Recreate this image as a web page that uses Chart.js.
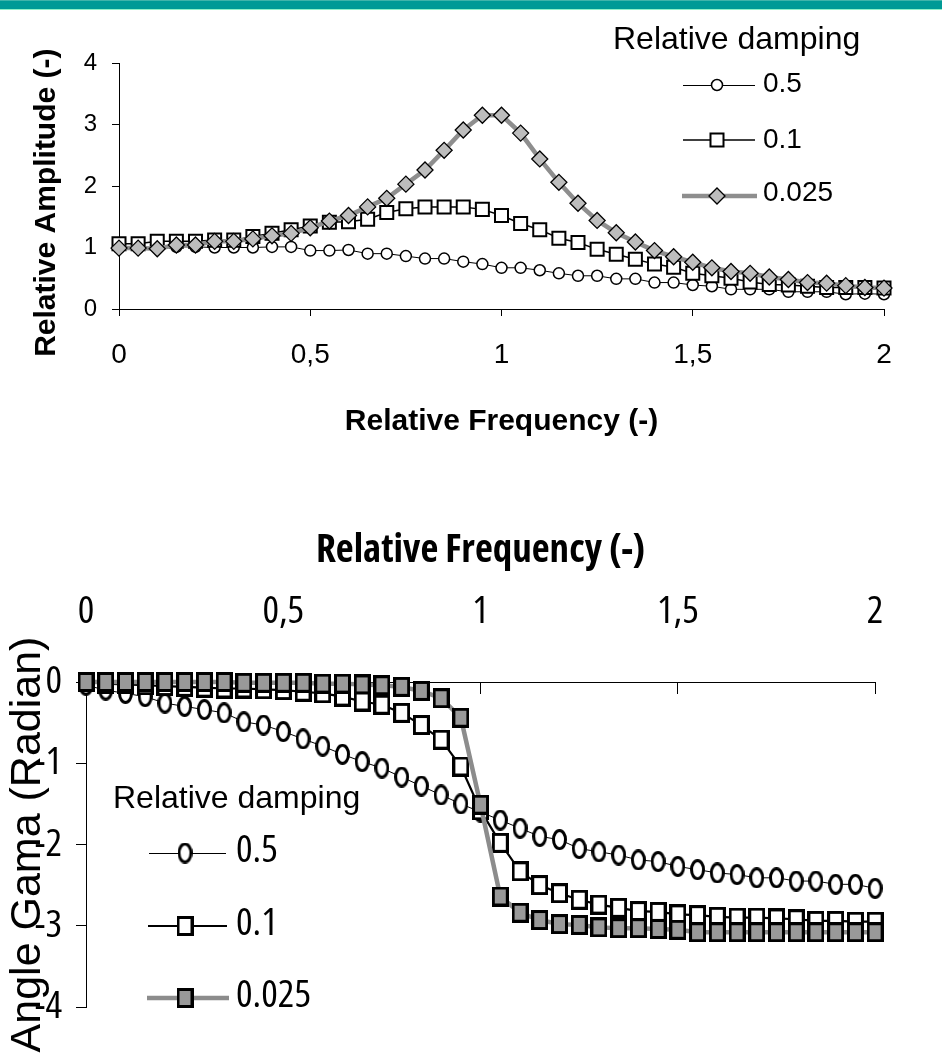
<!DOCTYPE html>
<html><head><meta charset="utf-8">
<script src="https://cdn.jsdelivr.net/npm/chart.js@4.4.1/dist/chart.umd.min.js"></script>
<style>
html,body{margin:0;padding:0;background:#fff;}
body{width:942px;height:1061px;position:relative;overflow:hidden;}
#bar{position:absolute;left:0;top:0;width:942px;height:8px;background:#009a96;border-top:1px solid #40b4aa;border-bottom:1px solid #8ff0c8;z-index:2;}
canvas{position:absolute;left:0;display:block;}
</style></head><body>
<canvas id="c1" width="942" height="450" style="top:0"></canvas>
<canvas id="c2" width="942" height="611" style="top:450px"></canvas>
<div id="bar"></div>
<script>
// ---------------- data ----------------
const freq = [0,0.05,0.1,0.15,0.2,0.25,0.3,0.35,0.4,0.45,0.5,0.55,0.6,0.65,0.7,0.75,0.8,0.85,0.9,0.95,1,1.05,1.1,1.15,1.2,1.25,1.3,1.35,1.4,1.45,1.5,1.55,1.6,1.65,1.7,1.75,1.8,1.85,1.9,1.95,2];
const dampingLabels = ['0.5','0.1','0.025'];

const amp05 = [0.99,0.99,1.0,1.01,1.01,1.0,1.0,1.0,1.01,1.01,0.95,0.95,0.96,0.9,0.9,0.86,0.82,0.82,0.77,0.73,0.67,0.67,0.63,0.58,0.54,0.54,0.49,0.49,0.43,0.43,0.39,0.37,0.32,0.32,0.32,0.28,0.28,0.28,0.24,0.25,0.24];
const amp01 = [1.06,1.06,1.1,1.1,1.1,1.12,1.12,1.18,1.23,1.29,1.35,1.41,1.42,1.46,1.57,1.63,1.66,1.66,1.66,1.62,1.52,1.39,1.29,1.15,1.08,0.97,0.89,0.81,0.73,0.68,0.58,0.54,0.5,0.44,0.4,0.39,0.37,0.35,0.35,0.35,0.34];
const amp0025 = [0.99,0.99,0.98,1.04,1.04,1.1,1.1,1.14,1.19,1.23,1.32,1.43,1.52,1.66,1.8,2.03,2.26,2.58,2.91,3.15,3.15,2.86,2.44,2.06,1.72,1.44,1.24,1.09,0.95,0.85,0.76,0.67,0.61,0.58,0.52,0.48,0.43,0.42,0.38,0.35,0.34];

const phase05 = [-0.04,-0.1,-0.14,-0.18,-0.26,-0.3,-0.34,-0.38,-0.49,-0.53,-0.61,-0.7,-0.79,-0.89,-0.98,-1.06,-1.17,-1.28,-1.39,-1.5,-1.6,-1.7,-1.8,-1.9,-1.94,-2.05,-2.09,-2.13,-2.19,-2.21,-2.27,-2.31,-2.35,-2.37,-2.41,-2.41,-2.45,-2.45,-2.49,-2.49,-2.54];
const phase01 = [0,-0.02,-0.03,-0.04,-0.05,-0.06,-0.07,-0.08,-0.08,-0.09,-0.1,-0.12,-0.14,-0.18,-0.24,-0.28,-0.38,-0.53,-0.71,-1.04,-1.58,-1.98,-2.33,-2.5,-2.6,-2.68,-2.74,-2.78,-2.82,-2.83,-2.86,-2.87,-2.89,-2.9,-2.9,-2.91,-2.92,-2.94,-2.94,-2.95,-2.95];
const phase0025 = [0,0,0,0,0,0,0,0,-0.01,-0.01,-0.01,-0.01,-0.02,-0.02,-0.03,-0.04,-0.06,-0.11,-0.2,-0.44,-1.51,-2.64,-2.84,-2.93,-2.98,-2.99,-3.02,-3.03,-3.03,-3.04,-3.05,-3.08,-3.08,-3.08,-3.08,-3.08,-3.08,-3.08,-3.08,-3.08,-3.08];

const xTickLabels = ['0','0,5','1','1,5','2'];
const ampTickLabels = ['0','1','2','3','4'];
const phaseTickValues = [0,-1,-2,-3,-4];
const phaseTickLabels = ['0','-1','-2','-3','-4'];

// ---------------- fonts ----------------
const ARIAL = "'Liberation Sans', Arial, sans-serif";
const probe = document.createElement('canvas').getContext('2d');
function textW(font, s) { probe.font = font; return probe.measureText(s).width; }
let NFAM = "'Liberation Sans'", NW = '';
for (const fam of ["'Liberation Sans Narrow'", "'Noto Sans'", "'Open Sans'", "'Roboto'"]) {
  const w0 = textW('100px ' + fam, 'Relative 0,5');
  const w1 = textW('condensed 100px ' + fam, 'Relative 0,5');
  const wl = textW("100px 'Liberation Sans'", 'Relative 0,5');
  if (fam === "'Liberation Sans Narrow'") {
    if (w0 < wl * 0.9) { NFAM = fam; NW = ''; break; }
    continue;
  }
  if (w1 < w0 * 0.86) { NFAM = fam; NW = 'condensed'; break; }
}
const NARROW = NFAM + ", 'Liberation Sans', sans-serif";
function fit(weight, text, target, maxSize) {
  const w = textW((weight ? weight + ' ' : '') + '100px ' + NARROW, text);
  return Math.min(maxSize, 100 * target / w);
}
const nTick = fit(NW, '0,5', 43, 39);
const nTitle = fit(('bold ' + NW).trim(), 'Relative Frequency (-)', 337, 39);
const nLeg = fit(NW, '0.025', 77, 39);
const nTickW = NW || undefined;
const nTitleW = ('bold ' + NW).trim();

// ---------------- helpers ----------------
const pts = (arr) => freq.map((x, i) => ({x: x, y: arr[i]}));

function makeMarker(w, h, shape, fill, stroke, lw) {
  const c = document.createElement('canvas');
  c.width = w; c.height = h;
  const g = c.getContext('2d');
  g.fillStyle = fill; g.strokeStyle = stroke; g.lineWidth = lw;
  g.beginPath();
  if (shape === 'ellipse') g.ellipse(w / 2, h / 2, w / 2 - lw / 2, h / 2 - lw / 2, 0, 0, Math.PI * 2);
  else g.rect(lw / 2, lw / 2, w - lw, h - lw);
  g.fill(); g.stroke();
  return c;
}

const sideLegend = {
  id: 'sideLegend',
  afterDraw(chart, args, o) {
    const ctx = chart.ctx;
    ctx.save();
    ctx.textBaseline = 'middle';
    ctx.textAlign = 'left';
    ctx.fillStyle = '#000';
    ctx.font = o.titleFont;
    ctx.fillText(o.title, o.titleX, o.titleY);
    o.rows.forEach((r) => {
      const ds = chart.data.datasets[r.index];
      const ly = ds.borderWidth <= 1 ? r.y + 0.5 : r.y;
      ctx.beginPath();
      ctx.strokeStyle = ds.borderColor;
      ctx.lineWidth = ds.borderWidth;
      ctx.moveTo(r.x1, ly); ctx.lineTo(r.x2, ly);
      ctx.stroke();
      ctx.fillStyle = ds.pointBackgroundColor;
      ctx.strokeStyle = ds.pointBorderColor;
      ctx.lineWidth = ds.pointBorderWidth;
      Chart.helpers.drawPoint(ctx, {pointStyle: ds.pointStyle, radius: ds.pointRadius, borderWidth: ds.pointBorderWidth, rotation: 0}, r.mx, r.y);
      ctx.fillStyle = '#000';
      ctx.font = o.labelFont;
      ctx.fillText(ds.label, r.lx, r.ly);
    });
    ctx.restore();
  }
};

Chart.defaults.font.family = ARIAL;
Chart.defaults.color = '#000';

// ---------------- chart 1: amplitude ----------------
new Chart(document.getElementById('c1'), {
  type: 'line',
  data: {
    datasets: [
      {label: dampingLabels[0], data: pts(amp05), borderColor: '#000', borderWidth: 1,
       pointStyle: 'circle', pointRadius: 5.5, pointBackgroundColor: '#fff', pointBorderColor: '#000', pointBorderWidth: 1.5, order: 3},
      {label: dampingLabels[1], data: pts(amp01), borderColor: '#000', borderWidth: 1.5,
       pointStyle: 'rect', pointRadius: 9.2, pointBackgroundColor: '#fff', pointBorderColor: '#000', pointBorderWidth: 2, order: 2},
      {label: dampingLabels[2], data: pts(amp0025), borderColor: '#8e8e8e', borderWidth: 4.5,
       pointStyle: 'rectRot', pointRadius: 8, pointBackgroundColor: '#bdbdbd', pointBorderColor: '#000', pointBorderWidth: 1.3, order: 1}
    ]
  },
  options: {
    responsive: false, animation: false,
    layout: {padding: {left: 0, top: 63, right: 58, bottom: 0}},
    elements: {line: {tension: 0}},
    datasets: {line: {clip: false}},
    plugins: {
      legend: {display: false}, tooltip: {enabled: false},
      sideLegend: {
        title: 'Relative damping', titleFont: '32px ' + ARIAL, titleX: 613, titleY: 40,
        labelFont: '28px ' + ARIAL,
        rows: [
          {index: 0, x1: 683, x2: 755, mx: 717, y: 85, lx: 763, ly: 84},
          {index: 1, x1: 683, x2: 755, mx: 717, y: 140, lx: 763, ly: 140},
          {index: 2, x1: 682, x2: 757, mx: 717, y: 196, lx: 763, ly: 193}
        ]
      }
    },
    scales: {
      x: {
        type: 'linear', position: 'bottom', min: 0, max: 2,
        afterFit: (s) => { s.height = 141; },
        ticks: {stepSize: 0.5, padding: 22.5, font: {size: 28}, color: '#000', maxRotation: 0,
                callback: (v, i) => xTickLabels[i]},
        grid: {drawOnChartArea: false, drawTicks: true, tickLength: 7, color: '#000', lineWidth: 1},
        border: {display: true, color: '#000', width: 1},
        title: {display: true, text: 'Relative Frequency (-)', color: '#000',
                font: {size: 30, weight: 'bold'}, padding: {top: 0, bottom: 10.4}}
      },
      y: {
        type: 'linear', position: 'left', min: 0, max: 4,
        afterFit: (s) => { s.width = 119; },
        ticks: {stepSize: 1, padding: 15, font: {size: 24}, color: '#000',
                callback: (v, i) => ampTickLabels[i]},
        grid: {drawOnChartArea: false, drawTicks: true, tickLength: 7, color: '#000', lineWidth: 1},
        border: {display: true, color: '#000', width: 1},
        title: {display: true, text: 'Relative Amplitude (-)    ', color: '#000',
                font: {size: 30, weight: 'bold'}, padding: {top: 28.6, bottom: 0}}
      }
    }
  },
  plugins: [sideLegend]
});

// ---------------- chart 2: phase ----------------
const ellipseMarker = makeMarker(15, 21, 'ellipse', '#fff', '#000', 3);
const whiteSquare = makeMarker(17, 20, 'rect', '#fff', '#000', 3);
const graySquare = makeMarker(17, 20, 'rect', '#999999', '#000', 3);

new Chart(document.getElementById('c2'), {
  type: 'line',
  data: {
    datasets: [
      {label: dampingLabels[0], data: pts(phase05), borderColor: '#000', borderWidth: 1,
       pointStyle: ellipseMarker, pointRadius: 9, pointBackgroundColor: '#fff', pointBorderColor: '#000', pointBorderWidth: 3, order: 3},
      {label: dampingLabels[1], data: pts(phase01), borderColor: '#000', borderWidth: 2.2,
       pointStyle: whiteSquare, pointRadius: 9, pointBackgroundColor: '#fff', pointBorderColor: '#000', pointBorderWidth: 3, order: 2},
      {label: dampingLabels[2], data: pts(phase0025), borderColor: '#8c8c8c', borderWidth: 4.5,
       pointStyle: graySquare, pointRadius: 9, pointBackgroundColor: '#999999', pointBorderColor: '#000', pointBorderWidth: 3, order: 1}
    ]
  },
  options: {
    responsive: false, animation: false,
    layout: {padding: {left: 0, top: 0, right: 11, bottom: 54}},
    elements: {line: {tension: 0}},
    datasets: {line: {clip: false}},
    plugins: {
      legend: {display: false}, tooltip: {enabled: false},
      sideLegend: {
        title: 'Relative damping', titleFont: '32px ' + ARIAL, titleX: 113, titleY: 349,
        labelFont: (NW ? NW + ' ' : '') + nLeg.toFixed(1) + 'px ' + NARROW,
        rows: [
          {index: 0, x1: 149, x2: 226, mx: 185, y: 403, lx: 236, ly: 401},
          {index: 1, x1: 148, x2: 227, mx: 185, y: 476, lx: 236, ly: 474},
          {index: 2, x1: 147, x2: 229, mx: 185, y: 548, lx: 236, ly: 546}
        ]
      }
    },
    scales: {
      x: {
        type: 'linear', position: 'top', min: 0, max: 2,
        afterFit: (s) => { s.height = 232; },
        ticks: {stepSize: 0.5, padding: 82 - 0.6 * nTick, font: {size: nTick, family: NARROW, weight: nTickW}, color: '#000', maxRotation: 0,
                callback: (v, i) => xTickLabels[i]},
        grid: {drawOnChartArea: false, drawTicks: true, tickLength: -12, color: '#000', lineWidth: 1},
        border: {display: true, color: '#000', width: 1},
        title: {display: true, text: 'Relative Frequency (-)', color: '#000',
                font: {size: nTitle, weight: nTitleW, family: NARROW}, padding: {top: 101 - 0.6 * nTitle, bottom: 0}}
      },
      y: {
        type: 'linear', position: 'left', min: -4, max: 0,
        afterFit: (s) => { s.width = 86; },
        ticks: {stepSize: 1, padding: 14, font: {size: nTick, family: NARROW, weight: nTickW}, color: '#000',
                callback: (v) => phaseTickLabels[phaseTickValues.indexOf(v)]},
        grid: {drawOnChartArea: false, drawTicks: true, tickLength: 10, color: '#000', lineWidth: 1},
        border: {display: true, color: '#000', width: 1},
        title: {display: true, text: 'Angle Gama (Radian)', color: '#000',
                font: {size: 43}, padding: {top: 2, bottom: 0}}
      }
    }
  },
  plugins: [sideLegend]
});
</script>
</body></html>
